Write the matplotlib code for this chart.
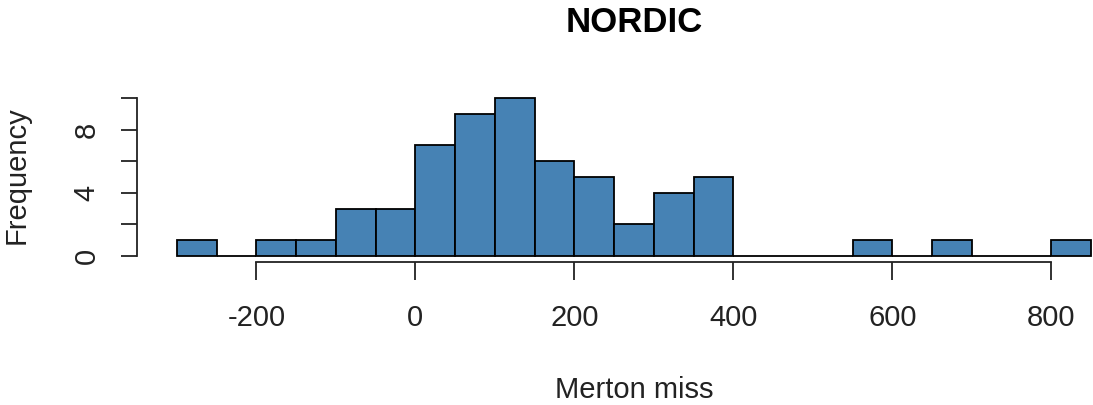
import matplotlib
matplotlib.use("Agg")
import matplotlib.pyplot as plt
import numpy as np

plt.rcParams['font.family'] = ['Liberation Sans', 'DejaVu Sans']

# Histogram data (bins of width 50, from -300 to 850)
bin_edges = list(range(-300, 851, 50))
counts = [1, 0, 1, 1, 3, 3, 7, 9, 10, 6, 5, 2, 4, 5, 0, 0, 0, 1, 0, 1, 0, 0, 1]
x_ticks = [-200, 0, 200, 400, 600, 800]
y_ticks = [0, 2, 4, 6, 8, 10]
y_ticklabels = ['0', '', '4', '', '8', '']
title = "NORDIC"
xlabel = "Merton miss"
ylabel = "Frequency"

W, H = 1093, 405
fig = plt.figure(figsize=(W / 100, H / 100), dpi=100)

L_px, R_px = 140, 1093
T_px, B_px = 91.7, 262.3
ax = fig.add_axes([L_px / W, (H - B_px) / H, (R_px - L_px) / W, (B_px - T_px) / H])

lefts = np.array(bin_edges[:-1])
widths = np.diff(bin_edges)
ax.bar(lefts, counts, width=widths, align='edge', color='#4682B4',
       edgecolor='black', linewidth=1.3)

ax.set_xlim(-346.3, 852.4)
ax.set_ylim(-0.4, 10.4)

for s in ['top', 'right']:
    ax.spines[s].set_visible(False)
ax.spines['left'].set_bounds(0, 10)
ax.spines['bottom'].set_bounds(-200, 800)
ax.spines['left'].set_position(('outward', 2))
ax.spines['bottom'].set_position(('outward', 0))
for s in ['left', 'bottom']:
    ax.spines[s].set_linewidth(1.3)
    ax.spines[s].set_color('#222222')

ax.set_xticks(x_ticks)
ax.set_xticklabels([str(v) for v in x_ticks], fontsize=21)
ax.set_yticks(y_ticks)
ax.set_yticklabels(y_ticklabels, fontsize=21, rotation=90, va='center')
ax.tick_params(axis='x', length=13, width=1.3, pad=17, colors='#222222', labelcolor='#222222')
ax.tick_params(axis='y', length=11.5, width=1.3, pad=15, colors='#222222', labelcolor='#222222')

cx = 633.8 / W
fig.text(cx, 1 - 32 / H, title, ha='center', va='baseline', fontsize=25, fontweight='bold')
fig.text(cx, 1 - 398 / H, xlabel, ha='center', va='baseline', fontsize=21, color='#222222')
fig.text(17 / W, 1 - 175 / H, ylabel, ha='center', va='center', rotation=90, fontsize=21, color='#222222')

fig.savefig('out.png', dpi=100)
